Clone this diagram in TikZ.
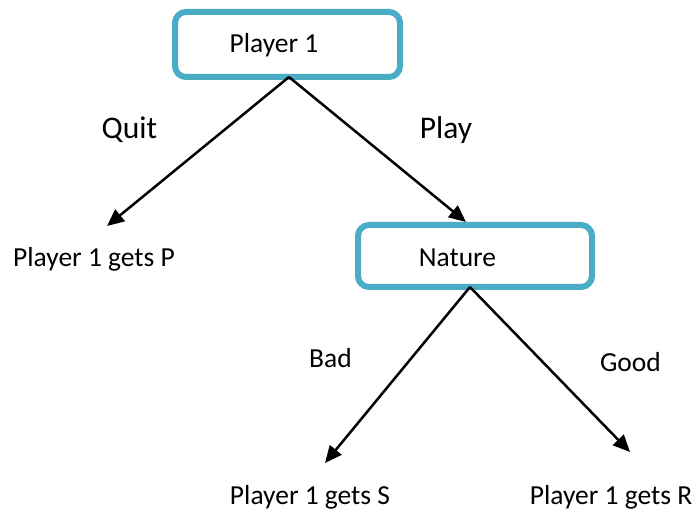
\documentclass[tikz,border=0pt]{standalone}
\usepackage{fontspec}
\setmainfont{Carlito}
\usetikzlibrary{arrows.meta}
\definecolor{boxteal}{HTML}{4BACC6}
\begin{document}
\begin{tikzpicture}[x=1pt,y=-1pt,
  decision/.style={draw=boxteal, line width=6pt, rounded corners=11pt, fill=white,
    inner sep=0pt, outer sep=0pt},
  lbl/.style={font=\fontsize{27.5}{30}\selectfont, inner sep=0pt, anchor=base},
  biglbl/.style={font=\fontsize{31.5}{34}\selectfont, inner sep=0pt, anchor=base},
  branch/.style={line width=2.5pt, -{Triangle[length=17pt,width=15pt]}}]
  \useasboundingbox (0,0) rectangle (697,513);

  % decision boxes
  \node[decision, minimum width=225pt, minimum height=65pt] (p1) at (287.5,44.5) {};
  \node[lbl] (p1txt) at (274,53) {Player 1};
  \node[decision, minimum width=234pt, minimum height=62pt] (nat) at (475,256) {};
  \node[lbl] (nattxt) at (457.5,267) {Nature};

  % arrow tips
  \coordinate (quitend) at (107,226);
  \coordinate (playend) at (466,222);
  \coordinate (badend) at (325,463);
  \coordinate (goodend) at (630,452);

  % branches
  \draw[branch] ([xshift=1.5pt]p1.south) -- (quitend);
  \draw[branch] ([xshift=1.5pt]p1.south) -- (playend);
  \draw[branch] ([xshift=-5pt]nat.south) -- (badend);
  \draw[branch] ([xshift=-5pt]nat.south) -- (goodend);

  % branch labels
  \node[biglbl] (quit) at (129.5,139) {Quit};
  \node[biglbl] (play) at (446,139) {Play};
  \node[lbl] (bad) at (330.5,368) {Bad};
  \node[lbl] (good) at (630.5,372) {Good};

  % outcomes
  \node[lbl] (outp) at (94,267) {Player 1 gets P};
  \node[lbl] (outs) at (310,504) {Player 1 gets S};
  \node[lbl] (outr) at (611,504) {Player 1 gets R};
\end{tikzpicture}
\end{document}
